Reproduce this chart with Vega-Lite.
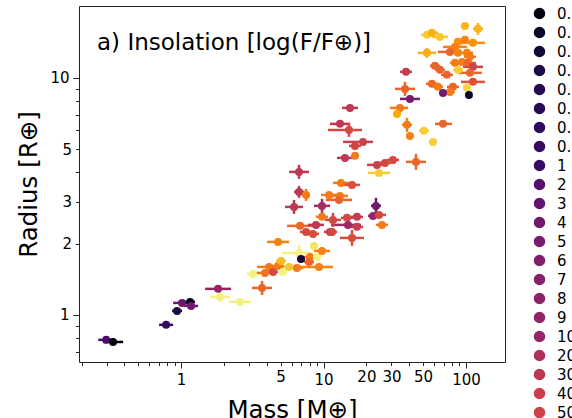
{
"$schema":"https://vega.github.io/schema/vega-lite/v6.json",
"width":426,"height":356,
"autosize":{"type":"none"},
"padding":{"left":79,"top":6,"right":67,"bottom":56},
"background":"white",
"title":{"text":"a) Insolation [log(F/F⊕)]","anchor":"start","frame":"group","orient":"top","offset":0,"baseline":"alphabetic","dx":18,"dy":67,"fontSize":23,"font":"DejaVu Sans","fontWeight":"normal","color":"#000"},
"data":{"values":[
{"m":0.298,"ml":0.262,"mh":0.339,"r":0.785,"rl":0.769,"rh":0.800,"f":1.5},
{"m":0.333,"ml":0.284,"mh":0.392,"r":0.769,"rl":0.755,"rh":0.785,"f":0.2},
{"m":0.785,"ml":0.701,"mh":0.879,"r":0.908,"rl":0.890,"rh":0.925,"f":1.0},
{"m":0.937,"ml":0.865,"mh":1.016,"r":1.040,"rl":1.020,"rh":1.060,"f":0.5},
{"m":1.016,"ml":0.879,"mh":1.175,"r":1.124,"rl":1.102,"rh":1.146,"f":3.5},
{"m":1.157,"ml":1.067,"mh":1.254,"r":1.135,"rl":1.113,"rh":1.157,"f":0.25},
{"m":1.175,"ml":1.050,"mh":1.316,"r":1.091,"rl":1.070,"rh":1.113,"f":4},
{"m":1.819,"ml":1.474,"mh":2.244,"r":1.288,"rl":1.251,"rh":1.326,"f":10},
{"m":1.878,"ml":1.598,"mh":2.208,"r":1.191,"rl":1.135,"rh":1.251,"f":3500},
{"m":2.594,"ml":2.172,"mh":3.097,"r":1.135,"rl":1.113,"rh":1.157,"f":3500},
{"m":3.201,"ml":2.905,"mh":3.527,"r":1.489,"rl":1.461,"rh":1.518,"f":3500},
{"m":3.702,"ml":3.149,"mh":4.351,"r":1.300,"rl":1.214,"rh":1.392,"f":140},
{"m":3.884,"ml":3.360,"mh":4.494,"r":1.504,"rl":1.475,"rh":1.534,"f":200},
{"m":4.147,"ml":3.415,"mh":5.196,"r":1.594,"rl":1.563,"rh":1.625,"f":230},
{"m":4.423,"ml":4.081,"mh":4.793,"r":1.518,"rl":1.489,"rh":1.548,"f":60},
{"m":4.793,"ml":4.351,"mh":5.280,"r":1.609,"rl":1.579,"rh":1.641,"f":250},
{"m":5.032,"ml":4.642,"mh":5.454,"r":1.689,"rl":1.657,"rh":1.723,"f":1000},
{"m":5.728,"ml":5.280,"mh":6.209,"r":1.594,"rl":1.563,"rh":1.625,"f":1300},
{"m":5.196,"ml":4.871,"mh":5.545,"r":1.518,"rl":1.489,"rh":1.548,"f":3500},
{"m":6.516,"ml":5.911,"mh":7.178,"r":1.578,"rl":1.548,"rh":1.609,"f":250},
{"m":9.296,"ml":6.516,"mh":11.66,"r":1.594,"rl":1.563,"rh":1.625,"f":300},
{"m":6.730,"ml":5.112,"mh":8.171,"r":1.827,"rl":1.689,"rh":1.975,"f":3500},
{"m":6.952,"ml":6.516,"mh":7.417,"r":1.723,"rl":1.689,"rh":1.756,"f":0.4},
{"m":8.040,"ml":7.297,"mh":8.859,"r":1.756,"rl":1.723,"rh":1.791,"f":250},
{"m":7.910,"ml":7.297,"mh":8.577,"r":1.673,"rl":1.641,"rh":1.706,"f":150},
{"m":9.001,"ml":8.441,"mh":9.602,"r":1.756,"rl":1.723,"rh":1.791,"f":3500},
{"m":8.577,"ml":8.040,"mh":9.150,"r":1.955,"rl":1.917,"rh":1.994,"f":2500},
{"m":9.757,"ml":8.577,"mh":11.11,"r":1.862,"rl":1.826,"rh":1.899,"f":300},
{"m":4.793,"ml":4.016,"mh":5.728,"r":2.032,"rl":1.994,"rh":2.072,"f":280},
{"m":6.840,"ml":5.545,"mh":8.441,"r":2.375,"rl":2.329,"rh":2.421,"f":150},
{"m":8.859,"ml":7.784,"mh":10.08,"r":2.398,"rl":2.352,"rh":2.445,"f":30},
{"m":7.540,"ml":6.840,"mh":8.306,"r":2.240,"rl":2.197,"rh":2.284,"f":60},
{"m":8.441,"ml":7.660,"mh":9.296,"r":2.197,"rl":2.154,"rh":2.240,"f":70},
{"m":11.11,"ml":10.08,"mh":12.24,"r":2.240,"rl":2.197,"rh":2.284,"f":35},
{"m":16.63,"ml":15.10,"mh":18.33,"r":5.164,"rl":5.066,"rh":5.267,"f":55},
{"m":18.93,"ml":13.71,"mh":22.25,"r":5.370,"rl":5.267,"rh":5.476,"f":45},
{"m":14.15,"ml":12.44,"mh":16.11,"r":4.597,"rl":4.508,"rh":4.688,"f":30},
{"m":16.63,"ml":15.60,"mh":17.74,"r":4.688,"rl":4.597,"rh":4.781,"f":250},
{"m":23.73,"ml":20.19,"mh":27.90,"r":4.295,"rl":4.212,"rh":4.379,"f":45},
{"m":27.02,"ml":24.51,"mh":29.78,"r":4.379,"rl":4.295,"rh":4.466,"f":60},
{"m":30.74,"ml":27.90,"mh":33.88,"r":4.508,"rl":4.423,"rh":4.597,"f":60},
{"m":24.51,"ml":20.52,"mh":29.29,"r":3.974,"rl":3.897,"rh":4.052,"f":1500},
{"m":6.730,"ml":5.728,"mh":7.910,"r":4.012,"rl":3.748,"rh":4.295,"f":30},
{"m":13.27,"ml":11.66,"mh":15.10,"r":3.605,"rl":3.536,"rh":3.677,"f":250},
{"m":15.85,"ml":13.93,"mh":18.04,"r":3.536,"rl":3.467,"rh":3.605,"f":70},
{"m":6.730,"ml":6.209,"mh":7.297,"r":3.304,"rl":3.117,"rh":3.501,"f":30},
{"m":7.540,"ml":7.063,"mh":8.040,"r":3.208,"rl":3.027,"rh":3.400,"f":250},
{"m":10.93,"ml":9.602,"mh":12.44,"r":3.208,"rl":3.147,"rh":3.272,"f":250},
{"m":13.05,"ml":11.47,"mh":14.85,"r":3.177,"rl":3.117,"rh":3.239,"f":250},
{"m":12.84,"ml":10.41,"mh":15.85,"r":3.057,"rl":2.999,"rh":3.117,"f":140},
{"m":6.209,"ml":5.370,"mh":7.178,"r":2.855,"rl":2.668,"rh":3.057,"f":30},
{"m":9.757,"ml":8.577,"mh":11.11,"r":2.884,"rl":2.694,"rh":3.087,"f":15},
{"m":23.35,"ml":21.54,"mh":25.33,"r":2.884,"rl":2.668,"rh":3.117,"f":4},
{"m":22.25,"ml":20.52,"mh":24.12,"r":2.617,"rl":2.567,"rh":2.668,"f":10},
{"m":24.51,"ml":21.90,"mh":27.46,"r":2.642,"rl":2.592,"rh":2.694,"f":60},
{"m":9.757,"ml":8.859,"mh":10.76,"r":2.592,"rl":2.542,"rh":2.642,"f":250},
{"m":11.66,"ml":10.25,"mh":13.27,"r":2.517,"rl":2.352,"rh":2.694,"f":60},
{"m":25.74,"ml":23.35,"mh":28.37,"r":2.398,"rl":2.352,"rh":2.445,"f":250},
{"m":14.62,"ml":13.27,"mh":16.11,"r":2.567,"rl":2.517,"rh":2.617,"f":60},
{"m":17.18,"ml":15.60,"mh":18.93,"r":2.592,"rl":2.542,"rh":2.642,"f":35},
{"m":14.85,"ml":11.29,"mh":18.33,"r":2.398,"rl":2.352,"rh":2.445,"f":12},
{"m":17.18,"ml":15.60,"mh":18.93,"r":2.352,"rl":2.306,"rh":2.398,"f":35},
{"m":11.47,"ml":10.58,"mh":12.44,"r":2.240,"rl":2.197,"rh":2.284,"f":60},
{"m":15.85,"ml":13.05,"mh":19.24,"r":2.113,"rl":1.955,"rh":2.284,"f":70},
{"m":37.93,"ml":34.43,"mh":41.78,"r":10.60,"rl":10.39,"rh":10.81,"f":35},
{"m":37.33,"ml":31.75,"mh":43.88,"r":8.986,"rl":8.395,"rh":9.619,"f":140},
{"m":40.45,"ml":34.43,"mh":47.53,"r":8.151,"rl":7.991,"rh":8.313,"f":5},
{"m":15.35,"ml":13.49,"mh":17.46,"r":7.471,"rl":7.326,"rh":7.619,"f":30},
{"m":34.43,"ml":29.29,"mh":39.17,"r":7.471,"rl":7.326,"rh":7.619,"f":250},
{"m":32.79,"ml":30.74,"mh":34.99,"r":7.047,"rl":6.910,"rh":7.186,"f":700},
{"m":13.05,"ml":11.11,"mh":15.35,"r":6.397,"rl":6.273,"rh":6.523,"f":30},
{"m":15.10,"ml":10.76,"mh":18.62,"r":6.034,"rl":5.637,"rh":6.459,"f":60},
{"m":38.55,"ml":35.56,"mh":41.78,"r":6.336,"rl":5.918,"rh":6.780,"f":250},
{"m":50.72,"ml":46.77,"mh":54.99,"r":5.976,"rl":5.861,"rh":6.094,"f":1500},
{"m":40.45,"ml":37.93,"mh":43.17,"r":5.692,"rl":5.582,"rh":5.804,"f":300},
{"m":44.59,"ml":37.93,"mh":52.40,"r":4.422,"rl":4.090,"rh":4.779,"f":140},
{"m":69.01,"ml":60.59,"mh":79.74,"r":6.397,"rl":6.273,"rh":6.523,"f":140},
{"m":58.68,"ml":54.99,"mh":62.56,"r":5.370,"rl":5.267,"rh":5.476,"f":1500},
{"m":98.4,"ml":92.2,"mh":105.0,"r":16.57,"rl":16.25,"rh":16.90,"f":900},
{"m":121.4,"ml":112.0,"mh":131.6,"r":16.10,"rl":15.19,"rh":17.06,"f":900},
{"m":53.24,"ml":48.33,"mh":58.68,"r":15.19,"rl":14.89,"rh":15.49,"f":1500},
{"m":57.71,"ml":52.40,"mh":63.63,"r":15.49,"rl":15.19,"rh":15.79,"f":800},
{"m":65.70,"ml":57.71,"mh":74.79,"r":14.89,"rl":14.60,"rh":15.19,"f":1300},
{"m":87.88,"ml":82.36,"mh":93.76,"r":14.19,"rl":13.92,"rh":14.47,"f":400},
{"m":98.4,"ml":92.2,"mh":105.0,"r":14.47,"rl":14.19,"rh":14.75,"f":300},
{"m":112.0,"ml":92.2,"mh":135.9,"r":14.05,"rl":13.78,"rh":14.33,"f":400},
{"m":83.70,"ml":69.01,"mh":101.6,"r":13.51,"rl":13.25,"rh":13.78,"f":300},
{"m":53.24,"ml":46.03,"mh":61.55,"r":12.75,"rl":12.14,"rh":13.38,"f":800},
{"m":77.20,"ml":63.63,"mh":93.76,"r":12.87,"rl":12.62,"rh":13.13,"f":150},
{"m":87.88,"ml":82.36,"mh":93.76,"r":12.75,"rl":12.50,"rh":13.00,"f":300},
{"m":101.6,"ml":92.2,"mh":112.0,"r":12.75,"rl":12.50,"rh":13.00,"f":300},
{"m":106.7,"ml":96.8,"mh":117.5,"r":12.27,"rl":12.03,"rh":12.51,"f":250},
{"m":93.76,"ml":85.1,"mh":103.3,"r":11.68,"rl":11.46,"rh":11.92,"f":250},
{"m":83.70,"ml":77.20,"mh":90.7,"r":11.57,"rl":11.35,"rh":11.80,"f":250},
{"m":103.3,"ml":90.7,"mh":117.5,"r":11.57,"rl":11.35,"rh":11.80,"f":150},
{"m":112.0,"ml":95.3,"mh":131.6,"r":11.13,"rl":10.92,"rh":11.35,"f":50},
{"m":87.88,"ml":81.1,"mh":95.3,"r":10.81,"rl":10.60,"rh":11.02,"f":1500},
{"m":60.59,"ml":55.9,"mh":65.70,"r":11.24,"rl":11.02,"rh":11.46,"f":140},
{"m":65.70,"ml":60.59,"mh":71.2,"r":10.81,"rl":10.60,"rh":11.02,"f":140},
{"m":73.5,"ml":66.8,"mh":81.1,"r":10.30,"rl":10.10,"rh":10.50,"f":140},
{"m":106.7,"ml":87.88,"mh":129.5,"r":10.50,"rl":10.30,"rh":10.70,"f":150},
{"m":112.0,"ml":92.2,"mh":135.9,"r":9.619,"rl":9.43,"rh":9.81,"f":80},
{"m":57.71,"ml":52.40,"mh":63.63,"r":9.434,"rl":9.25,"rh":9.62,"f":150},
{"m":63.63,"ml":58.68,"mh":69.01,"r":9.163,"rl":8.99,"rh":9.35,"f":250},
{"m":81.1,"ml":73.5,"mh":89.3,"r":9.163,"rl":8.99,"rh":9.35,"f":150},
{"m":77.20,"ml":71.2,"mh":83.70,"r":8.728,"rl":8.56,"rh":8.90,"f":250},
{"m":101.6,"ml":95.3,"mh":108.4,"r":9.075,"rl":8.90,"rh":9.25,"f":1800},
{"m":69.01,"ml":64.66,"mh":73.5,"r":8.643,"rl":8.48,"rh":8.82,"f":4},
{"m":105.0,"ml":100.0,"mh":110.2,"r":8.476,"rl":8.31,"rh":8.64,"f":0.3}
]},
"layer":[
{"mark":{"type":"rule","strokeWidth":2.5},
 "encoding":{
  "x":{"field":"ml","type":"quantitative","scale":{"type":"log","domain":[0.192,188],"nice":false}},
  "x2":{"field":"mh"},
  "y":{"field":"r","type":"quantitative","scale":{"type":"log","domain":[0.633,20.1],"nice":false}},
  "color":{"field":"f","type":"quantitative","scale":{"type":"log","domain":[0.15,5200],"scheme":"inferno"},
   "legend":{"title":null,"gradientLength":355,"gradientThickness":17,"offset":27,"labelOffset":10,"labelFontSize":15,"labelFont":"DejaVu Sans","labelColor":"#000","gradientStrokeColor":"#333","gradientStrokeWidth":1}}
 }},
{"mark":{"type":"rule","strokeWidth":2.5},
 "encoding":{
  "x":{"field":"m","type":"quantitative"},
  "y":{"field":"rl","type":"quantitative"},
  "y2":{"field":"rh"},
  "color":{"field":"f","type":"quantitative"}
 }},
{"mark":{"type":"point","filled":true,"shape":"circle","size":64,"opacity":1},
 "encoding":{
  "x":{"field":"m","type":"quantitative",
   "axis":{"title":"Mass [M⊕]","values":[0.2,0.3,0.4,0.5,0.6,0.7,0.8,0.9,1,2,3,4,5,6,7,8,9,10,20,30,40,50,60,70,80,90,100],
    "labelExpr":"indexof([1,5,10,20,30,50,100], datum.value) >= 0 ? format(datum.value, '~g') : ''",
    "tickSize":{"condition":{"test":"datum.value == 1 || datum.value == 10 || datum.value == 100","value":6},"value":3.5},
    "labelOverlap":false,"labelPadding":4,"titlePadding":11}},
  "y":{"field":"r","type":"quantitative",
   "axis":{"title":"Radius [R⊕]","values":[0.7,0.8,0.9,1,2,3,4,5,6,7,8,9,10],
    "labelExpr":"indexof([1,2,3,5,10], datum.value) >= 0 ? format(datum.value, '~g') : ''",
    "tickSize":{"condition":{"test":"datum.value == 1 || datum.value == 10","value":6},"value":3.5},
    "labelOverlap":false,"labelPadding":4,"titlePadding":8}},
  "color":{"field":"f","type":"quantitative"}
 }}
],
"config":{
 "view":{"stroke":"#222","strokeWidth":1},
 "axis":{"domain":false,"grid":false,"labelFont":"DejaVu Sans","labelFontSize":15,"labelColor":"#000","tickColor":"#222","tickWidth":1,"titleFont":"DejaVu Sans","titleFontSize":24.5,"titleFontWeight":"normal","titleColor":"#000"}
}
}
